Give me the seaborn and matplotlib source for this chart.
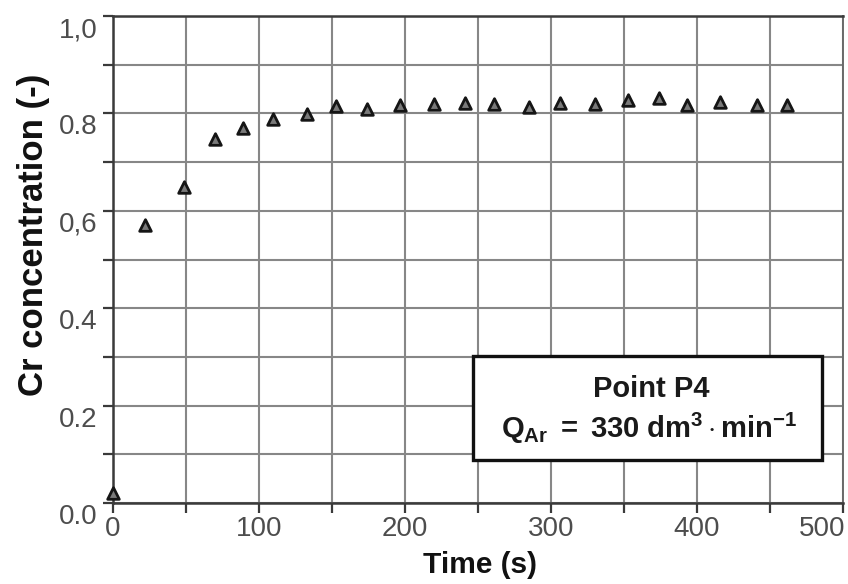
import matplotlib
matplotlib.use("Agg")
import matplotlib.pyplot as plt
import matplotlib.transforms as mtransforms
from matplotlib.patches import Rectangle
from matplotlib.ticker import MultipleLocator, FixedLocator, FixedFormatter
import seaborn as sns
import pandas as pd

# data
time_s = [0, 22, 49, 70, 89, 110, 133, 153, 174, 197, 220, 241, 261, 285, 306,
          330, 353, 374, 393, 416, 441, 462]
cr_conc = [0.02, 0.570, 0.648, 0.747, 0.771, 0.789, 0.798, 0.815, 0.810, 0.817,
           0.819, 0.822, 0.819, 0.813, 0.822, 0.820, 0.827, 0.831, 0.817, 0.824,
           0.818, 0.817]
y_tick_values = [0.0, 0.2, 0.4, 0.6, 0.8, 1.0]
y_tick_labels = ["0.0", "0.2", "0.4", "0,6", "0.8", "1,0"]
x_tick_values = [0, 100, 200, 300, 400, 500]
x_tick_labels = ["0", "100", "200", "300", "400", "500"]
box_line1 = "Point P4"
box_line2 = r"$\mathbf{Q_{Ar}\ =\ 330\ dm^{3}\cdot min^{-1}}$"

sns.set_theme(style="white")
plt.rcParams["font.family"] = ["Liberation Sans", "DejaVu Sans"]
plt.rcParams["mathtext.fontset"] = "custom"
plt.rcParams["mathtext.bf"] = "Liberation Sans:bold"
plt.rcParams["mathtext.rm"] = "Liberation Sans"
plt.rcParams["mathtext.it"] = "Liberation Sans:italic"

df = pd.DataFrame({"Time (s)": time_s, "Cr": cr_conc})

fig = plt.figure(figsize=(8.48, 5.84), dpi=100)
ax = fig.add_axes([0.133, 0.1387, 0.994 - 0.133, 0.9726 - 0.1387])

sns.scatterplot(data=df, x="Time (s)", y="Cr", ax=ax, marker="^", s=70,
                color="#7a7a7a", edgecolor="#151515", linewidth=2.0, zorder=5,
                clip_on=False)

ax.set_xlim(0, 500)
ax.set_ylim(0, 1.0)

ax.xaxis.set_major_locator(FixedLocator(x_tick_values))
ax.xaxis.set_major_formatter(FixedFormatter(x_tick_labels))
ax.xaxis.set_minor_locator(MultipleLocator(50))
ax.yaxis.set_major_locator(FixedLocator(y_tick_values))
ax.yaxis.set_major_formatter(FixedFormatter(y_tick_labels))
ax.yaxis.set_minor_locator(MultipleLocator(0.1))

ax.grid(which="both", color="#878787", linewidth=1.5)
ax.set_axisbelow(True)

for side, sp in ax.spines.items():
    sp.set_visible(True)
    sp.set_color("#3a3a3a")
    sp.set_linewidth(1.8)
ax.spines["right"].set_color("#6a6a6a")
ax.spines["right"].set_linewidth(1.4)

ax.tick_params(axis="both", which="both", direction="out", length=7.2,
               width=1.6, color="#3a3a3a", labelcolor="#4d4d4d",
               labelsize=20, left=True, bottom=True)
ax.tick_params(axis="x", which="both", pad=2.5)
ax.tick_params(axis="y", which="both", pad=4)

fig.canvas.draw()
offset = mtransforms.ScaledTranslation(0, -11 / 100, fig.dpi_scale_trans)
for lbl in ax.get_yticklabels():
    lbl.set_transform(lbl.get_transform() + offset)
xlabels = ax.get_xticklabels()
xlabels[-1].set_horizontalalignment("right")
xlabels[-1].set_transform(xlabels[-1].get_transform() +
                          mtransforms.ScaledTranslation(2 / 100, 0, fig.dpi_scale_trans))

ax.set_xlabel("Time (s)", fontsize=21.5, fontweight="bold", color="#111111", va="center")
ax.xaxis.set_label_coords(0.503, -0.127)
ax.set_ylabel("Cr concentration (-)", fontsize=25, fontweight="bold", color="#111111", va="center")
ax.yaxis.set_label_coords(-0.109, 0.55)

rect = Rectangle((0.493, 0.088), 0.972 - 0.493, 0.302 - 0.088, transform=ax.transAxes,
                 facecolor="white", edgecolor="#111111", linewidth=2.4, zorder=6)
ax.add_patch(rect)
ax.text(0.737, 0.217, box_line1, transform=ax.transAxes, ha="center", va="baseline",
        fontsize=21, fontweight="bold", color="#1a1a1a", zorder=7)
ax.text(0.735, 0.133, box_line2, transform=ax.transAxes, ha="center", va="baseline",
        fontsize=21, color="#1a1a1a", zorder=7)

fig.savefig("out.png", dpi=100)
